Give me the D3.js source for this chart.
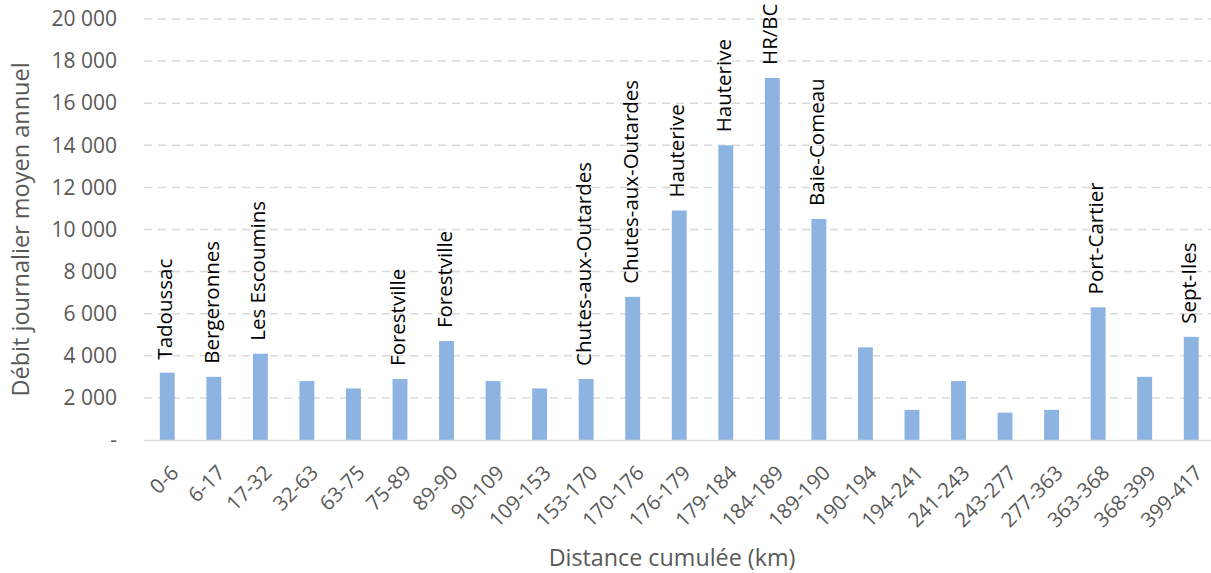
<!DOCTYPE html>
<html>
<head>
<meta charset="utf-8">
<script src="https://cdn.jsdelivr.net/npm/d3@7"></script>
<style>
  html, body { margin: 0; padding: 0; background: #fff; }
  svg { display: block; }
  text { font-family: "Open Sans", sans-serif; }
</style>
</head>
<body>
<svg id="chart" width="1211" height="573"></svg>
<script>
const categories = ["0-6","6-17","17-32","32-63","63-75","75-89","89-90","90-109","109-153","153-170","170-176","176-179","179-184","184-189","189-190","190-194","194-241","241-243","243-277","277-363","363-368","368-399","399-417"];
const values = [3200, 3000, 4100, 2800, 2450, 2900, 4700, 2800, 2450, 2900, 6800, 10900, 14000, 17200, 10500, 4400, 1430, 2800, 1300, 1430, 6300, 3000, 4900];
const places = ["Tadoussac","Bergeronnes","Les Escoumins","","","Forestville","Forestville","","","Chutes-aux-Outardes","Chutes-aux-Outardes","Hauterive","Hauterive","HR/BC","Baie-Comeau","","","","","","Port-Cartier","","Sept-Iles"];
const yTicks = [0, 2000, 4000, 6000, 8000, 10000, 12000, 14000, 16000, 18000, 20000];
const yTitle = "Débit journalier moyen annuel";
const xTitle = "Distance cumulée (km)";

const svg = d3.select("#chart");
const pLeft = 144, pRight = 1214.5, pTop = 19, pBottom = 440;

const x = d3.scaleBand().domain(categories).range([pLeft, pRight]).paddingInner(0.68).paddingOuter(0.34);
const y = d3.scaleLinear().domain([0, 20000]).range([pBottom, pTop]);

const fmt = v => v === 0 ? "-" : d3.format(",")(v).replace(/,/g, " ");

// gridlines
svg.append("g").selectAll("line").data(yTicks.filter(d => d > 0)).join("line")
  .attr("x1", pLeft).attr("x2", 1211)
  .attr("y1", d => y(d)).attr("y2", d => y(d))
  .attr("stroke", "#d9d9d9").attr("stroke-width", 1.5)
  .attr("stroke-dasharray", "8,6");

// y axis labels
const yAxis = d3.axisLeft(y).tickValues(yTicks).tickFormat(fmt).tickSize(0).tickPadding(0);
const gy = svg.append("g").attr("transform", `translate(117,0)`).call(yAxis);
gy.select(".domain").remove();
gy.selectAll("text").attr("fill", "#595959").style("font-size", "21px").style("font-family", "Open Sans");

// bars
svg.append("g").selectAll("rect").data(values).join("rect")
  .attr("x", (d, i) => x(categories[i]))
  .attr("width", x.bandwidth())
  .attr("y", d => y(d))
  .attr("height", d => y(0) - y(d))
  .attr("fill", "#8db3e2");

// x axis
const xAxis = d3.axisBottom(x).tickSize(0).tickPadding(0);
const gx = svg.append("g").attr("transform", `translate(0,${pBottom})`).call(xAxis);
gx.select(".domain").attr("stroke", "#d9d9d9").attr("stroke-width", 1.5).attr("d", `M${pLeft},0.5H1211`);
gx.selectAll("text")
  .attr("fill", "#595959").style("font-size", "20.5px").style("font-family", "Open Sans")
  .attr("text-anchor", "end")
  .attr("y", null)
  .attr("transform", "translate(7.5,29) rotate(-45)")
  .attr("dy", "0.35em");

// data labels
svg.append("g").selectAll("text").data(values).join("text")
  .attr("transform", (d, i) => `translate(${x(categories[i]) + x.bandwidth()/2 + 5},${y(d) - 13}) rotate(-90)`)
  .attr("text-anchor", "start")
  .attr("fill", "#000")
  .style("font-size", "20.5px")
  .text((d, i) => places[i]);

// axis titles
svg.append("text")
  .attr("transform", `translate(28.5,${(pTop + pBottom) / 2}) rotate(-90)`)
  .attr("text-anchor", "middle").attr("fill", "#595959").style("font-size", "23.5px")
  .text(yTitle);
svg.append("text")
  .attr("x", 672).attr("y", 566)
  .attr("text-anchor", "middle").attr("fill", "#595959").style("font-size", "23.3px")
  .text(xTitle);
</script>
</body>
</html>
